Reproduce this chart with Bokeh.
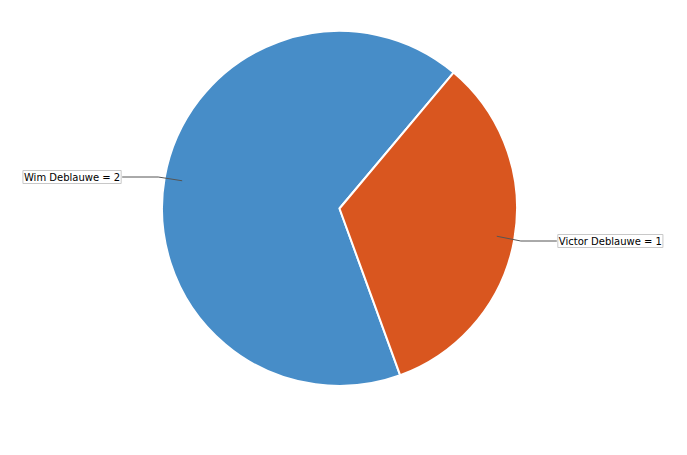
import math
from bokeh.plotting import figure
from bokeh.models import Range1d, Label, ColumnDataSource
from bokeh.embed import file_html
from bokeh.resources import INLINE

# ---- data ----
names = ["Wim Deblauwe", "Victor Deblauwe"]
values = [2, 1]
colors = ["#478DC8", "#D9561F"]

# ---- layout (screen-like coordinates: data y = 455 - screen y) ----
W, H = 687, 455
p = figure(width=671, height=439, output_backend="svg", toolbar_location=None,
           x_range=Range1d(0, 671), y_range=Range1d(H - 439, H), min_border=0)
p.axis.visible = False
p.grid.visible = False
p.outline_line_color = None

cx, cy, r = 339, H - 208, 177.5
start_deg = 50.0
total = sum(values)

starts, ends, mids = [], [], []
a = math.radians(start_deg)
for v in values:
    sweep = 2 * math.pi * v / total
    starts.append(a)
    ends.append(a + sweep)
    mids.append(a + sweep / 2)
    a += sweep

src = ColumnDataSource(dict(start=starts, end=ends, color=colors))
p.wedge(x=cx, y=cy, radius=r, start_angle="start", end_angle="end",
        fill_color="color", line_color="white", line_width=2, source=src)

# labels with leader lines
label_screen_y = [176.5, 240.5]
elbow_dx = 24
gap = 36
for name, v, m, ly in zip(names, values, mids, label_screen_y):
    ax = cx + 0.9 * r * math.cos(m)
    ay = cy + 0.9 * r * math.sin(m)
    side = 1 if math.cos(m) > 0 else -1
    ex = ax + side * elbow_dx
    ey = H - ly
    bx = ex + side * gap
    p.line([ax, ex, bx], [ay, ey, ey], line_color="#555555", line_width=1)
    p.add_layout(Label(x=bx + side * 1, y=ey, text=f"{name} = {v}",
                       text_font="DejaVu Sans", text_font_size="10px",
                       text_color="#000000",
                       text_align="left" if side > 0 else "right",
                       text_baseline="middle",
                       background_fill_color="white",
                       border_line_color="#c8c8c8", border_line_width=1,
                       padding=1))

open("out.html", "w").write(file_html(p, INLINE))
